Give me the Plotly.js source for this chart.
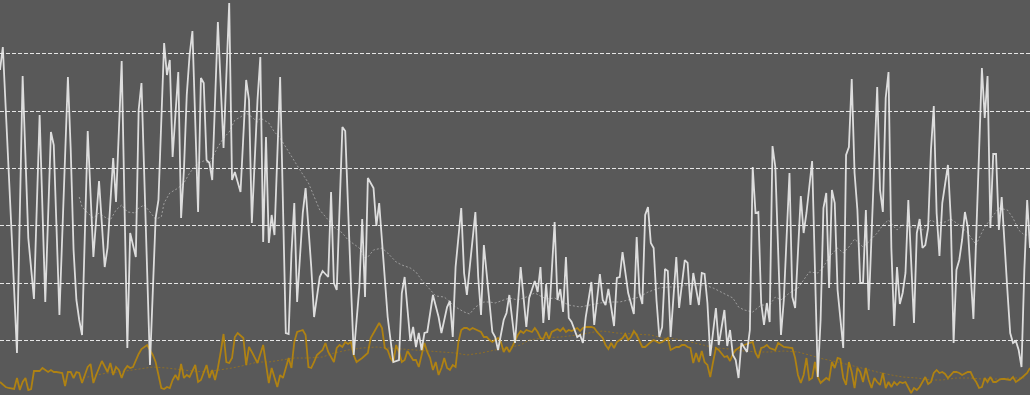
<!DOCTYPE html>
<html>
<head>
<meta charset="utf-8">
<script src="https://cdn.plot.ly/plotly-3.0.1.min.js"></script>
<style>html,body{margin:0;padding:0;background:#595959;overflow:hidden}#chart{width:1030px;height:395px}</style>
</head>
<body>
<div id="chart"></div>
<script>
// Series values: [day, value]
const whiteSeries = [[0,328],[1,351],[4,171],[6,45],[8,322],[10,160],[12,99],[14,283],[16,96],[18,266],[19,253],[21,83],[24,321],[25,248],[26,148],[27,98],[28,78],[29,63],[31,267],[33,141],[35,217],[37,131],[38,150],[40,240],[41,196],[43,337],[45,50],[46,165],[48,141],[49,288],[50,315],[53,33],[55,180],[56,198],[58,355],[59,323],[60,338],[61,241],[63,326],[64,180],[65,228],[66,303],[67,343],[68,367],[70,186],[71,320],[72,315],[73,238],[74,235],[75,218],[77,376],[79,250],[81,395],[82,218],[83,226],[85,206],[87,318],[88,298],[89,175],[91,298],[92,341],[93,156],[94,261],[95,155],[96,183],[97,163],[99,321],[101,65],[102,64],[103,145],[104,195],[105,96],[107,185],[108,210],[110,131],[111,81],[113,121],[114,127],[116,121],[117,206],[118,115],[119,108],[121,271],[122,267],[124,115],[125,43],[127,111],[128,179],[129,101],[130,220],[132,210],[133,172],[134,195],[136,121],[137,81],[139,36],[141,38],[142,105],[143,121],[145,57],[146,71],[147,51],[148,65],[149,48],[150,65],[151,66],[152,85],[153,103],[155,81],[156,65],[158,91],[159,97],[160,61],[161,131],[163,190],[164,125],[165,103],[168,186],[169,121],[170,83],[171,153],[173,98],[174,66],[175,61],[176,48],[178,78],[179,85],[180,103],[181,76],[182,55],[184,131],[186,71],[187,100],[189,117],[190,106],[191,131],[192,75],[193,114],[194,78],[196,176],[197,98],[198,109],[199,86],[200,141],[201,80],[202,76],[204,61],[205,63],[206,55],[207,81],[209,116],[210,73],[212,124],[213,98],[214,93],[215,109],[217,72],[218,120],[219,121],[220,146],[222,105],[223,95],[224,84],[225,161],[226,105],[227,94],[228,183],[229,191],[230,155],[231,150],[232,98],[233,61],[234,71],[235,129],[236,127],[237,61],[238,98],[239,141],[240,90],[242,138],[243,135],[244,93],[245,125],[247,93],[248,125],[249,124],[250,95],[251,42],[253,90],[254,53],[256,88],[257,52],[258,68],[259,43],[260,38],[261,20],[262,55],[263,50],[264,46],[265,68],[266,231],[267,185],[268,186],[269,95],[270,73],[271,95],[272,76],[273,252],[274,231],[276,63],[277,98],[279,225],[280,101],[281,90],[283,202],[284,165],[285,185],[287,237],[288,131],[289,21],[290,78],[291,190],[292,205],[293,110],[294,208],[295,195],[296,108],[297,78],[298,50],[299,243],[300,251],[301,319],[302,225],[303,188],[304,115],[305,115],[306,188],[307,88],[308,165],[310,311],[311,208],[312,186],[313,300],[314,326],[315,150],[316,72],[317,131],[318,94],[319,105],[320,125],[321,198],[322,138],[323,75],[324,165],[325,179],[326,150],[327,153],[328,170],[329,248],[330,292],[331,185],[332,142],[333,195],[335,233],[336,180],[337,55],[338,128],[339,138],[340,158],[341,186],[342,171],[344,79],[345,160],[346,248],[347,330],[348,280],[349,322],[350,170],[351,244],[352,244],[353,168],[354,201],[355,150],[356,108],[357,65],[358,55],[359,57],[360,48],[361,31],[362,128],[363,198],[364,150]];

const goldSeries = [[0,16],[2,11],[3,10],[5,9],[6,20],[7,8],[8,16],[9,20],[10,8],[11,9],[12,27],[13,27],[14,27],[15,30],[17,26],[18,28],[19,26],[20,26],[22,25],[23,12],[24,26],[25,26],[26,20],[27,26],[28,25],[29,15],[31,31],[32,34],[33,15],[34,23],[35,30],[36,37],[38,26],[39,35],[40,23],[41,31],[42,28],[43,20],[44,28],[45,32],[46,30],[47,31],[49,44],[50,49],[52,53],[54,43],[55,36],[56,23],[57,10],[58,9],[59,11],[60,10],[61,18],[62,23],[63,18],[64,34],[65,20],[66,23],[67,21],[69,33],[70,16],[71,18],[72,26],[73,33],[74,20],[75,28],[76,18],[77,30],[78,46],[79,64],[80,36],[81,35],[82,40],[83,61],[84,65],[86,60],[87,33],[88,51],[89,46],[90,40],[91,35],[93,53],[95,15],[96,30],[97,21],[98,11],[99,23],[100,20],[102,40],[103,30],[104,56],[105,66],[107,68],[108,63],[109,31],[110,30],[111,36],[112,43],[114,48],[115,55],[116,46],[117,41],[118,36],[119,50],[120,53],[121,51],[122,56],[123,54],[124,56],[125,43],[126,36],[128,40],[129,43],[130,45],[131,60],[133,70],[134,75],[135,70],[136,50],[137,48],[138,40],[139,36],[140,53],[141,46],[142,36],[143,38],[144,47],[146,38],[147,38],[148,31],[149,43],[150,55],[151,46],[152,40],[153,28],[154,36],[155,23],[156,30],[157,40],[158,30],[159,28],[160,33],[161,31],[162,56],[163,68],[164,70],[165,70],[166,68],[167,70],[169,67],[170,66],[171,61],[172,61],[173,58],[174,56],[176,60],[177,56],[178,46],[179,51],[180,46],[181,51],[183,63],[184,67],[185,65],[186,68],[188,66],[189,70],[190,66],[191,60],[192,59],[193,66],[194,59],[195,66],[197,69],[198,67],[199,70],[200,66],[201,68],[202,67],[204,70],[205,67],[206,70],[207,71],[209,71],[210,70],[211,66],[213,60],[214,53],[215,49],[216,55],[217,50],[218,56],[220,60],[221,64],[222,58],[223,61],[224,67],[225,63],[227,51],[228,51],[229,54],[230,56],[231,58],[233,55],[234,56],[235,58],[236,60],[237,48],[239,51],[240,51],[241,53],[242,53],[243,51],[244,50],[245,35],[246,45],[247,36],[248,47],[249,36],[250,33],[251,21],[252,36],[253,50],[254,48],[255,44],[256,41],[257,42],[258,37],[259,44],[260,48],[261,50],[262,52],[263,53],[264,54],[265,55],[266,56],[267,45],[268,40],[269,50],[270,51],[271,53],[272,50],[274,48],[275,55],[277,51],[279,50],[280,50],[281,40],[282,23],[283,15],[284,23],[285,40],[286,18],[287,20],[288,36],[289,21],[290,15],[292,20],[293,18],[294,36],[295,30],[296,40],[297,39],[298,20],[299,13],[300,36],[301,26],[302,10],[303,30],[304,26],[305,16],[306,30],[307,18],[308,10],[309,20],[310,16],[311,13],[312,25],[313,10],[314,16],[315,11],[316,16],[317,13],[318,16],[319,15],[320,16],[321,11],[322,5],[323,10],[324,8],[325,11],[326,16],[327,21],[328,14],[329,16],[330,25],[331,28],[332,25],[333,26],[334,24],[335,20],[337,26],[338,26],[339,25],[340,23],[342,26],[343,26],[344,20],[345,16],[346,10],[347,11],[348,20],[349,16],[350,21],[351,16],[352,16],[353,18],[354,19],[355,19],[357,18],[358,21],[359,16],[360,18],[361,20],[363,25],[364,30]];

const whiteAvg = [[28,201],[29,191],[31,185],[33,180],[35,185],[37,181],[39,178],[41,188],[43,193],[45,186],[48,185],[49,190],[51,193],[53,186],[55,179],[57,181],[58,195],[60,205],[63,210],[65,215],[67,225],[70,235],[72,237],[74,235],[77,251],[79,260],[81,266],[83,278],[85,281],[87,285],[89,281],[91,276],[92,280],[95,275],[97,266],[99,260],[102,246],[104,238],[106,228],[109,215],[111,201],[113,188],[116,178],[118,171],[121,165],[123,158],[127,150],[129,140],[130,141],[132,148],[135,150],[137,145],[140,136],[142,133],[145,130],[147,126],[149,118],[152,108],[154,102],[157,101],[159,96],[161,91],[164,86],[166,84],[168,91],[171,96],[173,96],[175,95],[178,98],[180,100],[183,98],[186,101],[189,105],[193,99],[196,100],[199,96],[201,93],[205,91],[208,93],[212,95],[215,96],[219,96],[222,98],[226,101],[229,106],[233,110],[236,111],[240,111],[242,113],[246,113],[249,113],[252,110],[255,106],[259,100],[261,91],[263,88],[266,86],[269,93],[272,93],[274,101],[276,98],[279,105],[282,110],[284,118],[286,126],[289,125],[291,131],[293,141],[296,150],[298,145],[300,151],[302,159],[305,151],[307,156],[310,165],[312,173],[314,178],[316,171],[317,168],[319,173],[322,171],[324,171],[326,168],[329,178],[331,175],[334,176],[336,179],[339,173],[342,165],[345,153],[346,160],[348,171],[351,182],[353,190],[356,188],[358,180],[360,168],[362,163],[364,163]];

const goldAvg = [[28,20],[31,21],[34,23],[38,25],[42,26],[47,28],[52,30],[54,31],[59,30],[64,28],[68,27],[73,26],[78,28],[82,30],[87,33],[91,36],[95,36],[100,38],[104,40],[109,40],[114,41],[118,45],[123,48],[128,50],[133,51],[137,50],[142,49],[147,48],[151,47],[156,46],[161,45],[165,43],[170,45],[175,48],[180,51],[184,53],[187,58],[192,60],[198,61],[204,63],[210,66],[213,67],[218,65],[224,64],[230,63],[234,60],[239,59],[244,56],[248,53],[253,50],[258,49],[263,47],[268,46],[272,46],[277,47],[282,46],[286,43],[291,39],[296,36],[300,33],[305,29],[310,26],[315,23],[319,21],[324,20],[329,18],[333,18],[338,20],[343,20],[347,19],[352,19],[357,20],[362,20]];

const xs = a => a.map(p => p[0]);
const ys = a => a.map(p => p[1]);

const traces = [
  {x: xs(whiteAvg), y: ys(whiteAvg), type: 'scatter', mode: 'lines',
   line: {color: 'rgba(185,185,185,0.7)', width: 1, dash: '2px,2px'}, hoverinfo: 'skip'},
  {x: xs(goldAvg), y: ys(goldAvg), type: 'scatter', mode: 'lines',
   line: {color: 'rgba(160,118,20,0.75)', width: 1, dash: '2px,2px'}, hoverinfo: 'skip'},
  {x: xs(goldSeries), y: ys(goldSeries), type: 'scatter', mode: 'lines',
   line: {color: 'rgba(184,134,11,0.9)', width: 1.8}},
  {x: xs(whiteSeries), y: ys(whiteSeries), type: 'scatter', mode: 'lines',
   line: {color: 'rgba(235,235,235,0.9)', width: 1.8}}
];

const layout = {
  width: 1030, height: 395,
  margin: {l: 0, r: 0, t: 0, b: 0, pad: 0},
  paper_bgcolor: '#595959', plot_bgcolor: '#595959',
  showlegend: false,
  xaxis: {range: [0, 364], showgrid: false, zeroline: false, showticklabels: false, showline: false, ticks: ''},
  yaxis: {range: [3, 398], tick0: 0, dtick: 57.4, showgrid: true, gridcolor: 'rgba(255,255,255,0.85)', gridwidth: 1,
          griddash: '4px,2px', zeroline: false, showticklabels: false, showline: false, ticks: ''}
};

Plotly.newPlot('chart', traces, layout, {staticPlot: true, displayModeBar: false});
</script>
</body>
</html>
